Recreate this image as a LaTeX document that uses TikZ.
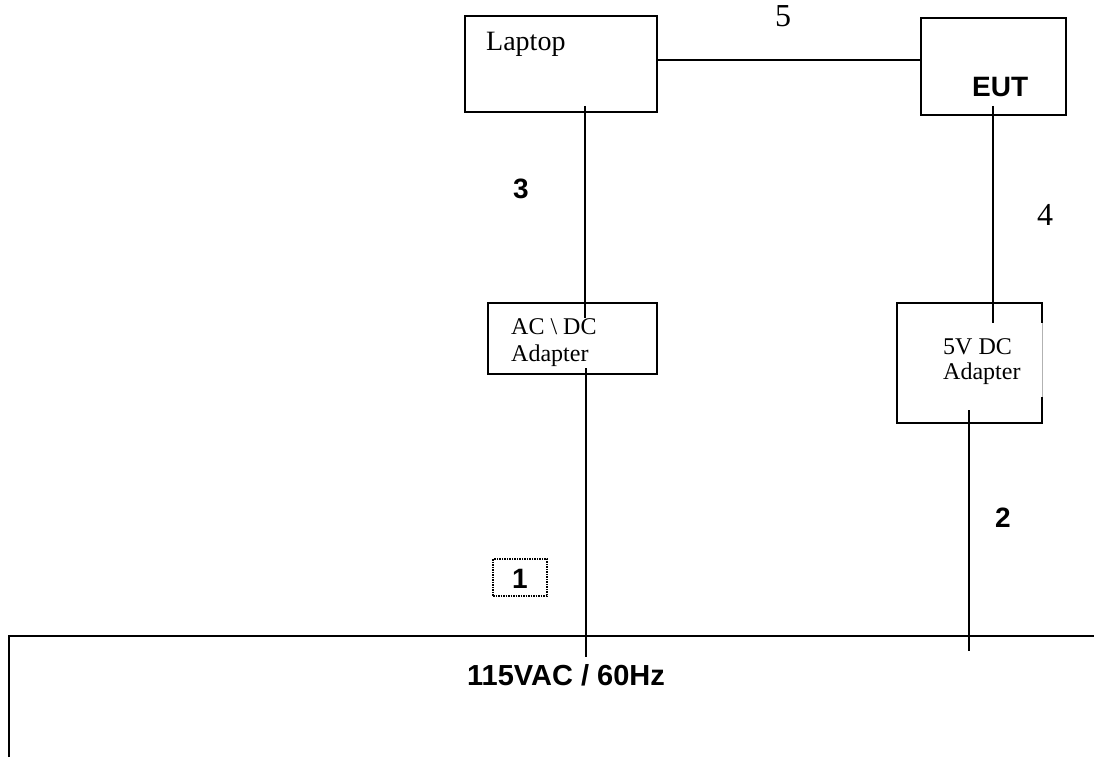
\documentclass[tikz,border=0pt]{standalone}
\usepackage{fontspec}
\setmainfont{Liberation Serif}
\newfontfamily\arialf{Liberation Sans}
\tikzset{
  box/.style={draw, line width=2.2pt, rectangle, inner sep=0pt},
  wire/.style={draw, line width=2.2pt},
  serifl/.style={inner sep=0pt, anchor=base west, font=\fontsize{28}{30}\selectfont},
  serifd/.style={inner sep=0pt, anchor=base west, font=\fontsize{32}{34}\selectfont},
  serifs/.style={inner sep=0pt, anchor=base west, font=\fontsize{24}{26}\selectfont},
  boldl/.style={inner sep=0pt, anchor=base west, font=\arialf\bfseries\fontsize{28}{30}\selectfont},
}
\begin{document}
\begin{tikzpicture}[x=1pt,y=-1pt]
\useasboundingbox (0,0) rectangle (1094,757);
% boxes
\node[box, minimum width=192pt, minimum height=96pt] (laptop) at (561,64) {};
\node[box, minimum width=145pt, minimum height=97pt] (eut) at (993.5,66.5) {};
\node[box, minimum width=169pt, minimum height=71pt] (acdc) at (572.5,338.5) {};
\node[box, minimum width=145pt, minimum height=120pt] (dc5) at (969.5,363) {};
% gap on right side of 5V box
\fill[white] (1040,323) rectangle (1044,397);
\draw[gray!60, line width=0.8pt] (1042,323) -- (1042,397);
% texts
\node[serifl] (tlap) at (486,51) {Laptop};
\node[boldl] (teut) at (972,97) {EUT};
\node[serifs] (tac1) at (511,334) {AC \textbackslash\ DC};
\node[serifs] (tac2) at (511,361) {Adapter};
\node[serifs] (t5v1) at (943,354) {5V DC};
\node[serifs] (t5v2) at (943,379) {Adapter};
\node[serifd] (t5) at (775,27) {5};
\node[serifd] (t4) at (1037,225) {4};
\node[boldl] (t3) at (513,198) {3};
\node[boldl] (t2) at (995,527) {2};
\node[boldl] (t1) at (512,588) {1};
\node[draw, densely dotted, line width=1.5pt, minimum width=54pt, minimum height=37pt, inner sep=0pt] (b1) at (520,577.5) {};
\node[inner sep=0pt, anchor=base west, font=\arialf\bfseries\fontsize{29}{31}\selectfont] (tmains) at (467,685) {115VAC / 60Hz};
% connector end points
\coordinate (lapS) at (585,106);
\coordinate (acN) at (585,318);
\coordinate (acS) at (586,368);
\coordinate (acG) at (586,657);
\coordinate (eutS) at (993,106);
\coordinate (dcN) at (993,323);
\coordinate (dcS) at (969,410);
\coordinate (dcG) at (969,651);
\coordinate (mainL) at (9,636);
\coordinate (mainR) at (1094,636);
\coordinate (mainB) at (9,757);
% wires
\draw[wire] (laptop.east |- 0,60) -- (eut.west |- 0,60);
\draw[wire] (lapS) -- (acN);
\draw[wire] (acS) -- (acG);
\draw[wire] (eutS) -- (dcN);
\draw[wire] (dcS) -- (dcG);
\draw[wire] (mainB) -- (mainL) -- (mainR);
\end{tikzpicture}
\end{document}
